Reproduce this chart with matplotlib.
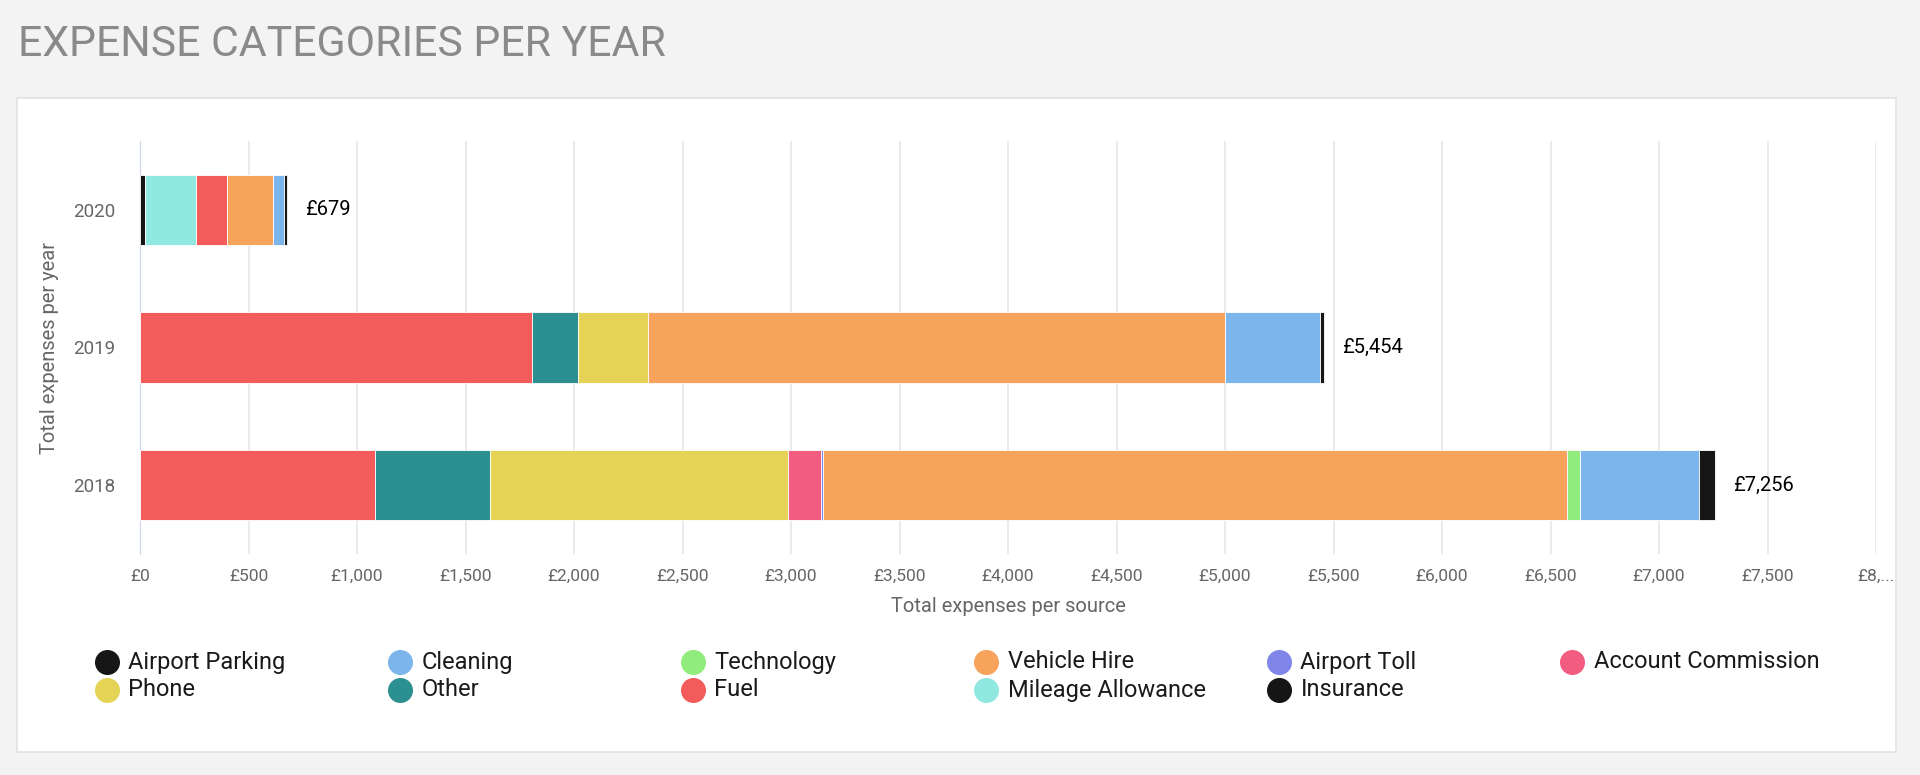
import numpy as np
import matplotlib.pyplot as plt
from matplotlib.patches import Rectangle
from matplotlib.lines import Line2D

plt.rcParams['font.family'] = ['Roboto', 'DejaVu Sans']

# data
years = ["2018", "2019", "2020"]
categories = ["Airport Parking", "Cleaning", "Technology", "Vehicle Hire", "Airport Toll",
              "Account Commission", "Phone", "Other", "Fuel", "Mileage Allowance", "Insurance"]
colors = ["#161616", "#7cb5ec", "#90ed7d", "#f7a35c", "#8085e9",
          "#f15c80", "#e4d354", "#2b908f", "#f45b5b", "#91e8e1", "#151515"]
airport_parking = [72, 18, 17]
cleaning = [548, 436, 48]
technology = [60, 0, 0]
vehicle_hire = [3427, 2659, 212]
airport_toll = [13, 0, 0]
account_commission = [148, 0, 0]
phone = [1375, 323, 0]
other = [528, 212, 0]
fuel = [1085, 1806, 144]
mileage_allowance = [0, 0, 235]
insurance = [0, 0, 23]
totals = [7256, 5454, 679]
xticks = np.arange(0, 8001, 500)
xtick_labels = ["£0", "£500", "£1,000", "£1,500", "£2,000", "£2,500", "£3,000", "£3,500",
                "£4,000", "£4,500", "£5,000", "£5,500", "£6,000", "£6,500", "£7,000",
                "£7,500", "£8,..."]

series = [airport_parking, cleaning, technology, vehicle_hire, airport_toll,
          account_commission, phone, other, fuel, mileage_allowance, insurance]

W, H = 1920, 775
fig = plt.figure(figsize=(W / 100, H / 100), dpi=100)
fig.patch.set_facecolor("#f3f3f3")

# white card behind the chart
fig.patches.append(Rectangle((17 / W, 1 - 752 / H), (1896 - 17) / W, (752 - 98) / H,
                             transform=fig.transFigure, facecolor="white",
                             edgecolor="#e2e2e2", linewidth=1.2, zorder=-10))

fig.text(18 / W, 1 - 45 / H, "EXPENSE CATEGORIES PER YEAR", fontsize=30.8,
         color="#8a8a8a", va="center", ha="left")

ax = fig.add_axes([140 / W, 1 - 554 / H, (1876 - 140) / W, (554 - 141) / H])
ax.set_facecolor("none")
ax.set_zorder(2)

y = np.arange(len(years))
left = np.zeros(len(years))
# stack from the last legend entry to the first
for name, vals, c in reversed(list(zip(categories, series, colors))):
    vals = np.array(vals, dtype=float)
    ax.barh(y, vals, left=left, height=0.51, color=c, edgecolor="white", linewidth=0.6, zorder=3)
    left += vals

for yi, tot in zip(y, totals):
    ax.annotate(f"£{tot:,}", (tot, yi), xytext=(13, 0), textcoords="offset points",
                va="center", ha="left", fontsize=14.5, color="#000000")

ax.set_xlim(0, 8000)
ax.set_ylim(-0.5, 2.5)
ax.set_xticks(xticks)
ax.set_xticklabels(xtick_labels, fontsize=12.5, color="#666666")
ax.set_yticks(y)
ax.set_yticklabels(years, fontsize=13.5, color="#666666")
ax.tick_params(axis="both", length=0, pad=11)
ax.tick_params(axis="y", pad=18)
ax.grid(axis="x", color="#e6e6e6", linewidth=1.2, zorder=0)
for s in ["top", "right", "bottom"]:
    ax.spines[s].set_visible(False)
ax.spines["left"].set_color("#ccd6eb")
ax.set_xlabel("Total expenses per source", fontsize=14.5, color="#666666", labelpad=9)
ax.set_ylabel("Total expenses per year", fontsize=14.5, color="#666666", labelpad=10)

# legend, laid out row by row like the original
for i, (name, c) in enumerate(zip(categories, colors)):
    row, col = divmod(i, 6)
    lx = (106.5 + col * 293) / W
    ly = 1 - (662 + row * 28) / H
    fig.add_artist(Line2D([lx], [ly], marker="o", markersize=17, color=c,
                          linestyle="none", transform=fig.transFigure))
    fig.text(lx + 22 / W, ly, name, fontsize=17, color="#1a1a1a", va="center", ha="left")

fig.savefig("out.png", dpi=100, facecolor=fig.get_facecolor())
